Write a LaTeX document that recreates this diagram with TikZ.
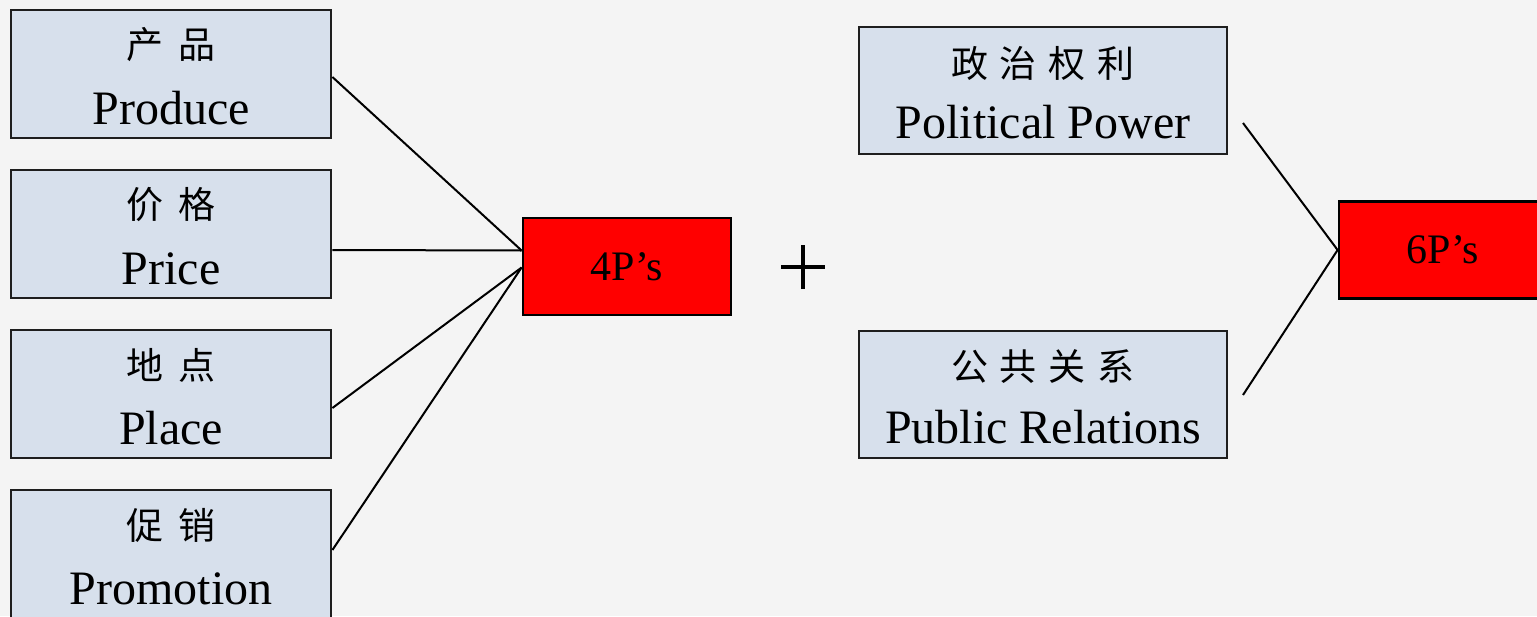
\documentclass[tikz,border=0pt]{standalone}
\usepackage{fontspec}
\setmainfont{Liberation Serif}
\newfontfamily\cjk{Noto Sans CJK SC}
\definecolor{bgc}{HTML}{F4F4F4}
\definecolor{boxc}{HTML}{D7E0EC}
\definecolor{edgec}{HTML}{1E1E1E}
\begin{document}
\begin{tikzpicture}[x=1pt,y=-1pt,
  pbox/.style={draw=edgec,line width=2.8pt,fill=boxc,rectangle,inner sep=0pt,minimum width=320pt,minimum height=128pt},
  rbox/.style={draw=edgec,line width=2.8pt,fill=boxc,rectangle,inner sep=0pt,minimum width=368pt,minimum height=127pt},
  redbox/.style={draw=black,line width=2.8pt,fill=red,rectangle,inner sep=0pt,minimum width=208pt,minimum height=97pt,font=\fontsize{42}{46}\selectfont},
  zh/.style={inner sep=0pt,anchor=center,font=\cjk\fontsize{37}{42}\selectfont},
  en/.style={inner sep=0pt,anchor=base,font=\fontsize{48}{52}\selectfont},
  conn/.style={draw=black,line width=2pt}]
\fill[bgc] (0,0) rectangle (1537,616);
\useasboundingbox (0,0) rectangle (1537,616);

% left boxes
\node[pbox] (b1) at (171,74) {};
\node[pbox] (b2) at (171,234) {};
\node[pbox] (b3) at (171,394) {};
\node[pbox] (b4) at (171,554) {};
\node[zh] (z1) at (171,45) {产\hspace{16pt}品};
\node[en] (e1) at (171,124) {Produce};
\node[zh] (z2) at (171,205) {价\hspace{16pt}格};
\node[en] (e2) at (171,284) {Price};
\node[zh] (z3) at (171,365) {地\hspace{16pt}点};
\node[en] (e3) at (171,444) {Place};
\node[zh] (z4) at (171,525) {促\hspace{16pt}销};
\node[en] (e4) at (171,604) {Promotion};

% 4P's
\node[redbox] (fp) at (627,266.5) {4P’s};
\coordinate (fpa) at ([yshift=16pt]fp.west);
\coordinate (fpb) at ([yshift=-1pt]fp.west);
\draw[conn] ([yshift=-3pt]b1.east) -- (fpa);
\draw[conn] ([yshift=-16pt]b2.east) -- (fpa);
\draw[conn] ([yshift=-14pt]b3.east) -- (fpb);
\draw[conn] ([yshift=4pt]b4.east) -- (fpb);

% plus
\node[inner sep=0pt] (plus) at (803,267) {};
\draw[line width=3.2pt] ([xshift=-22pt]plus.center) -- ([xshift=22pt]plus.center);
\draw[line width=3.2pt] ([yshift=-22pt]plus.center) -- ([yshift=22pt]plus.center);

% right boxes
\node[rbox] (r1) at (1043,90.5) {};
\node[rbox] (r2) at (1043,394.5) {};
\node[zh] (z5) at (1043,64) {政\hspace{12pt}治\hspace{12pt}权\hspace{12pt}利};
\node[en] (e5) at (1043,138) {Political Power};
\node[zh] (z6) at (1043,367) {公\hspace{12pt}共\hspace{12pt}关\hspace{12pt}系};
\node[en] (e6) at (1043,443) {Public Relations};

% 6P's
\node[redbox] (sp) at (1443,250) {6P’s};
\coordinate (ra) at (1243,123);
\coordinate (rb) at (1243,395);
\draw[conn] (ra) -- (sp.west);
\draw[conn] (rb) -- (sp.west);
\end{tikzpicture}
\end{document}
